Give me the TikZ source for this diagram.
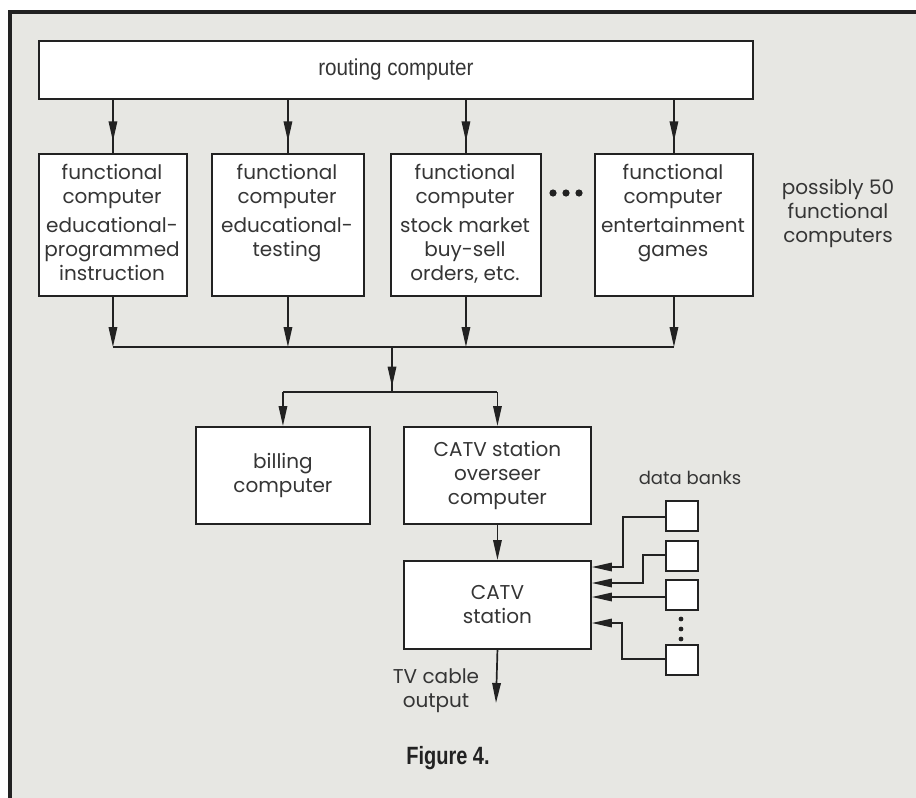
\documentclass[tikz,border=0pt]{standalone}
\usepackage{fontspec}
\setmainfont{Poppins}
\newfontfamily\condfont[FakeStretch=0.9]{Liberation Sans}
\newfontfamily\figfont[FakeStretch=0.8]{Liberation Sans}
\usetikzlibrary{arrows.meta,decorations.markings}
\definecolor{bg}{HTML}{E7E7E3}
\definecolor{ink}{HTML}{222222}
\definecolor{txt}{HTML}{353535}
\newcommand{\mainsize}{\fontsize{20}{24}\selectfont}
\begin{document}
\begin{tikzpicture}[x=1pt,y=-1pt,
  box/.style={draw=ink, fill=white, line width=1.9pt, rectangle, inner sep=0pt, anchor=north west},
  lbl/.style={text=txt, font=\mainsize, align=center, inner sep=0pt},
  ln/.style={color=ink, line width=1.7pt},
  arr/.style={ln, -{Triangle[length=20pt,width=8.5pt]}},
  midarr/.style={ln, postaction={decorate}, decoration={markings, mark=at position #1 with {\arrow{Triangle[length=20pt,width=8.5pt]}}}},
  dbox/.style={box, minimum width=32pt, minimum height=30pt}
]
\useasboundingbox (0,0) rectangle (916,798);
\fill[white] (0,0) rectangle (916,798);
\fill[bg] (10,12) rectangle (916,798);
\draw[ink, line width=4.5pt] (10,798) -- (10,12) -- (916,12);

% routing computer
\node[box, minimum width=714pt, minimum height=58pt, text=txt, font=\condfont\fontsize{23}{27}\selectfont] (rout) at (38,40) {routing computer};

% functional computers
\node[box, minimum width=148pt, minimum height=142pt] (f1) at (38,153) {};
\node[box, minimum width=152pt, minimum height=142pt] (f2) at (211,153) {};
\node[box, minimum width=150pt, minimum height=142pt] (f3) at (390,153) {};
\node[box, minimum width=158pt, minimum height=142pt] (f4) at (594,153) {};

\node[lbl, anchor=north] (f1t) at (112,164) {functional\\computer\\[5pt]educational-\\programmed\\instruction};
\node[lbl, anchor=north] (f2t) at (287,164) {functional\\computer\\[5pt]educational-\\testing};
\node[lbl, anchor=north] (f3t) at (465,164) {functional\\computer\\[5pt]stock market\\buy-sell\\orders, etc.};
\node[lbl, anchor=north] (f4t) at (673,164) {functional\\computer\\[5pt]entertainment\\games};

\foreach \i/\x in {a/553,b/566,c/579} \fill[ink] (\x,193) circle (3.6pt) coordinate (d\i);

\node[lbl] (poss) at (838,213) {possibly 50\\functional\\computers};

\foreach \f in {f1,f2,f3,f4} \draw[midarr=0.78] (rout.south -| \f.north) -- (\f.north);

% bus
\coordinate (bus) at (392,347);
\coordinate (br) at (392,392);
\foreach \f in {f1,f2,f3,f4} \draw[arr] (\f.south) -- (\f.south |- bus);
\draw[ln] (f1.south |- bus) -- (f4.south |- bus);
\draw[midarr=0.88] (bus) -- (br);

% billing / overseer
\node[box, minimum width=174pt, minimum height=97pt, text=txt, font=\mainsize, align=center] (bil) at (195,426) {billing\\computer};
\node[box, minimum width=187pt, minimum height=97pt, text=txt, font=\mainsize, align=center] (ov) at (403,426) {CATV station\\overseer\\computer};
\draw[ln] (bil.north |- br) -- (ov.north |- br);
\draw[arr] (bil.north |- br) -- (bil.north);
\draw[arr] (ov.north |- br) -- (ov.north);

% CATV station
\node[box, minimum width=187pt, minimum height=88pt, text=txt, font=\mainsize, align=center] (st) at (403,560) {CATV\\station};
\draw[arr] (ov.south) -- (st.north);
\coordinate (out) at (496,703);
\draw[arr] (st.south) -- (out);
\node[lbl] (outl) at (436,691) {TV cable\\output};

% data banks
\node[lbl, font=\fontsize{18}{22}\selectfont] (dbl) at (690,478) {data banks};
\node[dbox] (db1) at (665,500) {};
\node[dbox] (db2) at (665,540) {};
\node[dbox] (db3) at (665,579) {};
\node[dbox] (db4) at (665,644) {};
\foreach \y in {619,629,639} \fill[ink] (681,\y) circle (2.4pt);

\draw[arr] (db1.west |- 0,517) -- (623,517) -- (623,567) -- (st.east |- 0,567);
\draw[arr] (db2.west |- 0,555) -- (643,555) -- (643,583) -- (st.east |- 0,583);
\draw[arr] (db3.west |- 0,597) -- (st.east |- 0,597);
\draw[arr] (db4.west |- 0,659) -- (622,659) -- (622,623) -- (st.east |- 0,623);

\node[text=ink, font=\figfont\bfseries\fontsize{25}{29}\selectfont] (fig) at (448,758) {Figure 4.};
\end{tikzpicture}
\end{document}
